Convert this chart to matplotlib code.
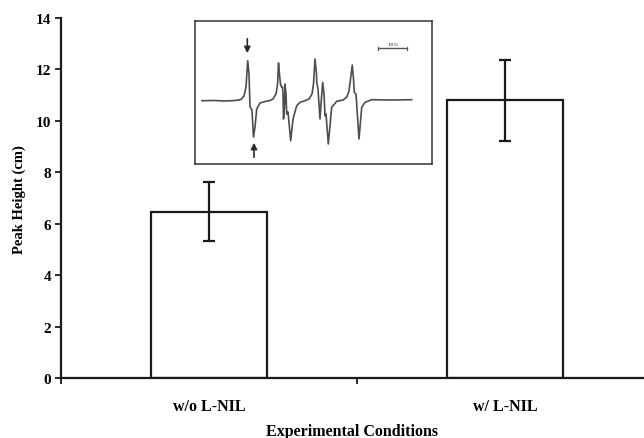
import matplotlib
matplotlib.use("Agg")
import matplotlib.pyplot as plt
from matplotlib.ticker import FixedLocator, NullFormatter

categories = ["w/o L-NIL", "w/ L-NIL"]
peak_height = [6.47, 10.80]
peak_err = [1.14, 1.56]
yticks = [0, 2, 4, 6, 8, 10, 12, 14]

# EPR spectrum trace in the inset (inset pixel units)
spec_x = [202, 215, 225, 235, 241, 244, 246, 247.7, 249, 250, 251.5, 252, 253.5, 255, 256.7,
          260, 265, 270, 273, 276, 277.5, 278.5, 279.5, 280.5, 281.5, 282.5, 283, 283.5, 284.5,
          285, 286, 286.7, 288, 290.7, 293, 296.7, 300, 305, 309, 312, 313.5, 315, 316.5, 316.7,
          318, 320, 321, 322.7, 324, 325, 326, 328.3, 331.7, 336.7, 343, 346.7, 349, 352.3, 353.5,
          354.3, 356, 359, 361.7, 365, 371.7, 390, 411.7]
spec_y = [101.7, 101.5, 102, 101.5, 100.5, 97, 88, 61.7, 75, 108, 110, 112, 138, 128, 110,
          104, 102.5, 101.5, 100, 95, 86, 64, 76, 85, 88, 88, 95, 120, 108,
          85, 95, 115, 113, 141.7, 120, 106.7, 103.3, 101.7, 100, 95, 85, 60, 75, 83.3,
          90, 120, 105, 83.3, 95, 116.7, 115, 145, 108.3, 102.3, 101, 98.3, 92, 66, 80,
          93.3, 95, 140, 108.3, 103.3, 100.7, 101, 100.7]

plt.rcParams["font.family"] = ["Liberation Serif", "DejaVu Serif"]
plt.rcParams["font.weight"] = "bold"

fig = plt.figure(figsize=(6.44, 4.39), dpi=100)
W, H = 644, 439
ax = fig.add_axes([61 / W, 1 - 379.3 / H, 1 - 61 / W, (379.3 - 19) / H])

x = list(range(len(categories)))
ax.bar(x, peak_height, width=0.39, color="white", edgecolor="#1a1a1a", linewidth=1.6, zorder=2)
ax.errorbar(x, peak_height, yerr=peak_err, fmt="none", ecolor="#1a1a1a", elinewidth=1.6,
            capsize=4, capthick=1.6, zorder=3)

ax.set_xlim(-0.5, 1.4696)
ax.set_ylim(0, 14)
ax.set_yticks(yticks)
ax.set_yticklabels([str(v) for v in yticks])
ax.xaxis.set_major_locator(FixedLocator([-0.5, 0.5, 1.5]))
ax.xaxis.set_major_formatter(NullFormatter())
ax.xaxis.set_minor_locator(FixedLocator(x))
ax.set_xticklabels(categories, minor=True)
ax.tick_params(axis="x", which="minor", length=0, pad=14, labelsize=11.5)
ax.tick_params(axis="x", which="major", length=4, width=1.3, direction="out", color="#1a1a1a")
ax.tick_params(axis="y", length=4, width=1.3, direction="out", labelsize=11, pad=3, color="#1a1a1a")
for lab in ax.get_xticklabels(minor=True) + ax.get_yticklabels():
    lab.set_fontweight("bold")

for s in ["top", "right"]:
    ax.spines[s].set_visible(False)
for s in ["left", "bottom"]:
    ax.spines[s].set_linewidth(1.6)
    ax.spines[s].set_color("#1a1a1a")

ax.set_ylabel("Peak Height (cm)", fontsize=10.5, fontweight="bold", labelpad=7)
ax.set_xlabel("Experimental Conditions", fontsize=11.5, fontweight="bold", labelpad=6.5)

# Inset with EPR spectrum
l, r, t, b = 195, 432, 22, 165
ins = fig.add_axes([l / W, 1 - b / H, (r - l) / W, (b - t) / H])
ins.set_xlim(l, r)
ins.set_ylim(b, t)
ins.set_xticks([])
ins.set_yticks([])
for s in ins.spines.values():
    s.set_linewidth(1.1)
    s.set_color("#333333")
ins.plot(spec_x, spec_y, color="#4d4d4d", lw=1.2)
ins.annotate("", xy=(247.3, 57), xytext=(247.3, 37),
             arrowprops=dict(arrowstyle="-|>", color="#2a2a2a", lw=1.2, mutation_scale=9))
ins.annotate("", xy=(254, 141), xytext=(254, 161),
             arrowprops=dict(arrowstyle="-|>", color="#2a2a2a", lw=1.2, mutation_scale=9))
ins.plot([378, 407], [49, 49], color="#555555", lw=1.0)
ins.plot([378, 378], [47.5, 50.5], color="#555555", lw=0.8)
ins.plot([407, 407], [47.5, 50.5], color="#555555", lw=0.8)
ins.text(392.5, 47, "10 G", fontsize=3.5, ha="center", va="bottom", color="#555555", fontweight="bold")

fig.savefig("out.png", dpi=100)
